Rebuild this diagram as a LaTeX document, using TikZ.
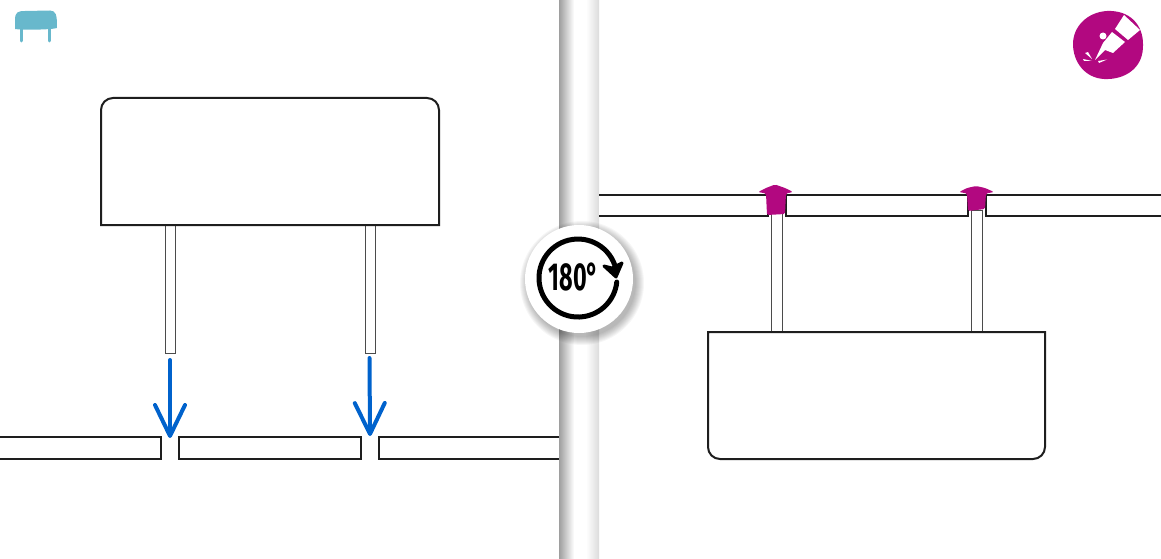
\documentclass[tikz,border=0pt]{standalone}
\usepackage{fontspec}
\setmainfont{Fira Sans}
\usetikzlibrary{arrows.meta,positioning,calc}
\definecolor{boardline}{RGB}{30,30,30}
\definecolor{pinkred}{RGB}{178,8,128}
\definecolor{bluearrow}{RGB}{0,98,204}
\definecolor{tealicon}{RGB}{104,184,204}
\tikzset{
  board/.style={draw=boardline, line width=2pt, fill=white},
  part/.style={draw=boardline, line width=2pt, fill=white},
  pin/.style={draw=boardline!80, line width=1pt, fill=white},
  insert/.style={draw=bluearrow, line width=4pt, line cap=round, -{Straight Barb[length=31pt,width=30pt,round]}},
  rivet/.style={fill=pinkred, draw=none, rounded corners=1.5pt},
}
\begin{document}
\begin{tikzpicture}[x=1pt,y=-1pt]
  \useasboundingbox (0,0) rectangle (1161,559);
  % Fold between the two panels
  \shade[left color=black!38, right color=white] (559,0) rectangle (574,559);
  \shade[left color=white, right color=black!14] (586,0) rectangle (599,559);

  % Left panel: holder and boards
  \fill[tealicon] (15,20) .. controls (15,12) and (18,11) .. (25,11) -- (50,10.5) .. controls (56,11) and (57,14) .. (57,28) .. controls (50,30) and (20,30) .. (15,29) -- cycle;
  \draw[tealicon, line width=3pt, line cap=round] (21,29) -- (21,41) (49,29) -- (49,41);
  \draw[board] (-2,437) -- (161,437) -- (161,459) -- (-2,459);
  \draw[board] (179,437) rectangle (361,459);
  \draw[board] (559,437) -- (379,437) -- (379,459) -- (559,459);
  \draw[pin] (165,225) rectangle (175,353);
  \draw[pin] (365,225) rectangle (375,353);
  \draw[part] (101,225) -- (101,110) arc[start angle=180, end angle=90, radius=12pt] -- (427,98) arc[start angle=90, end angle=0, radius=12pt] -- (439,225) -- cycle;

  % Arrows into the gaps
  \coordinate (gapa) at (170,438);
  \coordinate (gapb) at (370,436);
  \coordinate (starta) at (170,360);
  \coordinate (startb) at (369.5,358);
  \draw[insert] (starta) -- (gapa);
  \draw[insert] (startb) -- (gapb);

  % Right panel: the part after turning
  \draw[board] (599,195) -- (768,195) -- (768,216) -- (599,216);
  \draw[board] (786,195) rectangle (968,216);
  \draw[board] (1161,195) -- (986,195) -- (986,216) -- (1161,216);
  \draw[pin] (771,210) rectangle (782,332);
  \draw[pin] (971,210) rectangle (982,332);
  \draw[part] (708,332) -- (708,447) arc[start angle=180, end angle=270, radius=12pt] -- (1033,459) arc[start angle=270, end angle=360, radius=12pt] -- (1045,332) -- cycle;
  \fill[rivet] (758,192) -- (766,188) -- (775,184.5) -- (785,188) -- (793,192) -- (786,193.5) -- (785,214) -- (767,215) -- (766,193.5) -- cycle;
  \fill[rivet] (959,192) -- (967,188) -- (976,186) -- (985,188) -- (994,192) -- (986,193.5) -- (985,209) -- (968,211) -- (967,193.5) -- cycle;

  % Turn sign
  \foreach \r in {54,55,...,62} {
    \fill[black, opacity=0.035] (582,283) circle (\r pt);
  }
  \node[circle, fill=white, minimum size=108pt, inner sep=0pt] (turn) at (579,279) {};
  \draw[black, line width=5pt, line cap=round] (616.6,272.6) arc[start angle=8, end angle=354, radius=39pt];
  \fill[black, draw=black, line width=3pt, line join=round] (604,266) -- (612,268) -- (622,263) -- (616,277) -- cycle;
  \node[font=\bfseries\fontsize{39}{39}\selectfont, inner sep=0pt, xscale=0.6] (turnlabel) at (574,277) {180°};

  % Pencil badge
  \fill[pinkred] (1107,11) .. controls (1130,10) and (1143,25) .. (1143,44) .. controls (1144,68) and (1125,80) .. (1104,79) .. controls (1085,78) and (1073,62) .. (1073,44) .. controls (1073,26) and (1088,12) .. (1107,11) -- cycle;
  \fill[white] (1124,15) -- (1140,30) -- (1128,40) -- (1115,29) -- cycle;
  \fill[white] (1112,32) -- (1125,42) -- (1113,53) -- (1105,50) -- (1095,60) -- (1103,43) -- cycle;
  \fill[white] (1103,36) circle (3.5pt);
  \fill[white] (1085,53) -- (1088,52) -- (1092,59) -- cycle (1083,59) -- (1092,61) -- (1084,61) -- cycle (1098,61) -- (1107,59.5) -- (1099,63) -- cycle;
\end{tikzpicture}
\end{document}
